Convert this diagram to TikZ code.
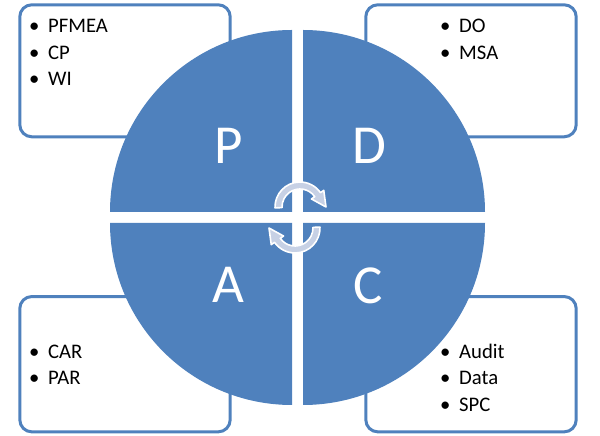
\documentclass[tikz,border=0pt]{standalone}
\usepackage{fontspec}
\setmainfont{Carlito}
\usetikzlibrary{positioning}
\definecolor{pdcablue}{HTML}{4F81BD}
\definecolor{arrowgrey}{HTML}{C7D1E5}

\begin{document}
\begin{tikzpicture}[x=1pt,y=1pt,
  listbox/.style={draw=pdcablue,line width=3pt,fill=white,rounded corners=12pt,minimum width=210.4pt,inner sep=0pt},
  quad/.style={fill=pdcablue},
  letter/.style={text=white,font=\fontsize{55}{55}\selectfont,inner sep=0pt},
  item/.style={anchor=base west,inner sep=0pt,font=\fontsize{20.7}{25}\selectfont},
  cyc/.style={fill=arrowgrey,draw=white,line width=1.6pt,line join=round}
  ]
  \useasboundingbox (0,0) rectangle (600,436);
  % boxes behind the circle
  \node[listbox,minimum height=132pt] (planbox) at (125,365.2) {};
  \node[listbox,minimum height=132pt] (dobox) at (471,365.2) {};
  \node[listbox,minimum height=135.3pt] (actbox) at (125,71.8) {};
  \node[listbox,minimum height=135.3pt] (checkbox) at (471,71.8) {};
  % lists
  \foreach \t [count=\i] in {PFMEA,CP,WI}
    \node[item] (plan\i) at (20,430.2-26.7*\i) {\makebox[28pt]{\textbullet}\t};
  \foreach \t [count=\i] in {DO,MSA}
    \node[item] (do\i) at (431,430.2-26.7*\i) {\makebox[28pt]{\textbullet}\t};
  \foreach \t [count=\i] in {CAR,PAR}
    \node[item] (act\i) at (20,104.4-26.7*\i) {\makebox[28pt]{\textbullet}\t};
  \foreach \t [count=\i] in {Audit,Data,SPC}
    \node[item] (check\i) at (431,104.4-26.7*\i) {\makebox[28pt]{\textbullet}\t};
  % quadrants
  \fill[quad] (292,224) -- ++(-182,0) arc[start angle=180,end angle=90,radius=182pt] -- cycle;
  \fill[quad] (303,224) -- ++(0,182) arc[start angle=90,end angle=0,radius=182pt] -- cycle;
  \fill[quad] (292,213) -- ++(-182,0) arc[start angle=180,end angle=270,radius=182pt] -- cycle;
  \fill[quad] (303,213) -- ++(182,0) arc[start angle=0,end angle=-90,radius=182pt] -- cycle;
  \node[letter] (p) at (229,290) {P};
  \node[letter] (d) at (369,290) {D};
  \node[letter] (a) at (228,151) {A};
  \node[letter] (c) at (368,150) {C};
  % cycle arrows
  \begin{scope}[shift={(300,229)}]
    \path[cyc] (182:25pt) arc[start angle=182,end angle=35,radius=25pt] -- (35:29pt) -- (0:26pt)
      -- (35:14pt) -- (35:18pt) arc[start angle=35,end angle=182,radius=18pt] -- cycle;
  \end{scope}
  \begin{scope}[shift={(295,208)},rotate=180]
    \path[cyc] (182:25pt) arc[start angle=182,end angle=35,radius=25pt] -- (35:29pt) -- (0:26pt)
      -- (35:14pt) -- (35:18pt) arc[start angle=35,end angle=182,radius=18pt] -- cycle;
  \end{scope}
\end{tikzpicture}
\end{document}
